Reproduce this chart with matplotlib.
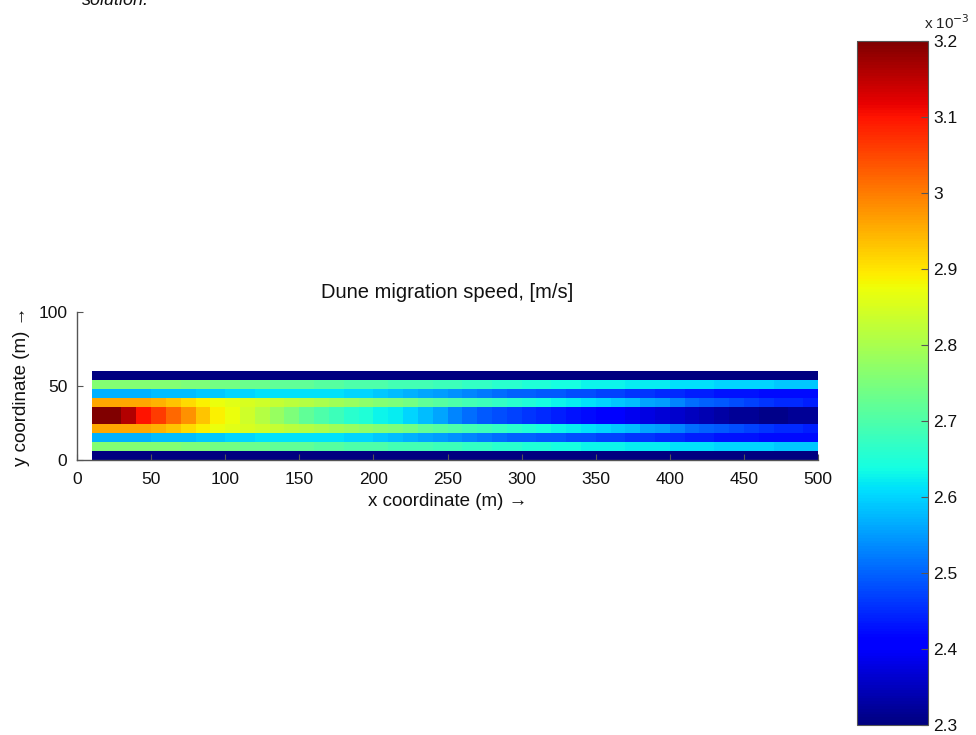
import numpy as np
import matplotlib
matplotlib.use("Agg")
import matplotlib.pyplot as plt

plt.rcParams['font.family'] = ['Liberation Sans', 'DejaVu Sans']

# ---- data (dune migration speed, units of 1e-3 m/s) ----
x_edges = np.arange(10, 501, 10)          # 50 edges -> 49 columns
y_edges = np.arange(0, 61, 6)             # 11 edges -> 10 rows
scale_label = r"x 10$^{-3}$"

center_row = [3.20, 3.20, 3.16, 3.10, 3.06, 3.02, 2.98, 2.93, 2.89, 2.87,
              2.84, 2.81, 2.78, 2.75, 2.72, 2.70, 2.68, 2.66, 2.65, 2.63,
              2.62, 2.60, 2.58, 2.56, 2.53, 2.51, 2.49, 2.48, 2.47, 2.46,
              2.45, 2.44, 2.43, 2.42, 2.41, 2.40, 2.39, 2.38, 2.37, 2.36,
              2.35, 2.34, 2.33, 2.32, 2.32, 2.31, 2.31, 2.32, 2.32]
inner_row = [2.96, 2.96, 2.96, 2.96, 2.95, 2.93, 2.91, 2.89, 2.87, 2.86,
             2.85, 2.84, 2.83, 2.82, 2.81, 2.80, 2.79, 2.78, 2.77, 2.76,
             2.75, 2.74, 2.72, 2.71, 2.70, 2.69, 2.68, 2.67, 2.66, 2.65,
             2.64, 2.63, 2.62, 2.61, 2.60, 2.59, 2.58, 2.56, 2.55, 2.53,
             2.51, 2.50, 2.49, 2.48, 2.47, 2.46, 2.45, 2.45, 2.44]
mid_row = [2.57, 2.57, 2.57, 2.57, 2.58, 2.58, 2.58, 2.59, 2.59, 2.60,
           2.60, 2.61, 2.61, 2.61, 2.61, 2.61, 2.61, 2.60, 2.60, 2.59,
           2.58, 2.57, 2.56, 2.55, 2.54, 2.53, 2.52, 2.51, 2.50, 2.50,
           2.49, 2.49, 2.48, 2.48, 2.47, 2.47, 2.46, 2.46, 2.45, 2.45,
           2.44, 2.44, 2.43, 2.43, 2.43, 2.42, 2.42, 2.42, 2.42]
outer_row = [2.76, 2.76, 2.76, 2.76, 2.76, 2.76, 2.75, 2.75, 2.74, 2.74,
             2.73, 2.73, 2.72, 2.72, 2.72, 2.71, 2.71, 2.70, 2.70, 2.70,
             2.69, 2.69, 2.69, 2.68, 2.68, 2.67, 2.67, 2.66, 2.66, 2.65,
             2.65, 2.64, 2.64, 2.63, 2.63, 2.63, 2.62, 2.62, 2.62, 2.61,
             2.61, 2.61, 2.60, 2.60, 2.60, 2.60, 2.59, 2.59, 2.59]
edge_row = [2.30] * 49

# rows from bottom (y=0) to top (y=60)
speed = np.array([edge_row, outer_row, mid_row, inner_row, center_row,
                  center_row, inner_row, mid_row, outer_row, edge_row])

x_ticks = [0, 50, 100, 150, 200, 250, 300, 350, 400, 450, 500]
y_ticks = [0, 50, 100]
cbar_ticks = [2.3, 2.4, 2.5, 2.6, 2.7, 2.8, 2.9, 3.0, 3.1, 3.2]
cbar_labels = ["2.3", "2.4", "2.5", "2.6", "2.7", "2.8", "2.9", "3", "3.1", "3.2"]

W, H = 976, 735
fig = plt.figure(figsize=(W / 100, H / 100), dpi=100)

def px(l, t, r, b):
    return [l / W, 1 - b / H, (r - l) / W, (b - t) / H]

ax = fig.add_axes(px(77, 312, 818, 460))
cmap = plt.get_cmap('jet')
mesh = ax.pcolormesh(x_edges, y_edges, speed, cmap=cmap, vmin=2.3, vmax=3.2,
                     shading='flat')
ax.set_xlim(0, 500)
ax.set_ylim(0, 100)
ax.set_xticks(x_ticks)
ax.set_yticks(y_ticks)
for s in ['top', 'right']:
    ax.spines[s].set_visible(False)
for s in ['left', 'bottom']:
    ax.spines[s].set_color('#555555')
    ax.spines[s].set_linewidth(1.0)
ax.tick_params(direction='in', length=4, color='#555555', labelsize=12.5,
               labelcolor='#111111')
ax.tick_params(axis='x', pad=9)
ax.tick_params(axis='y', pad=7)
ax.set_title("Dune migration speed, [m/s]", fontsize=14.5, pad=10, color='#111111')
ax.set_xlabel("x coordinate (m) \u2192", fontsize=13.5, labelpad=4, color='#111111')
ax.set_ylabel("y coordinate (m) \u2192", fontsize=13.5, labelpad=6, color='#111111')

cax = fig.add_axes(px(857, 41, 928, 725))
cb = fig.colorbar(mesh, cax=cax)
cb.set_ticks(cbar_ticks)
cb.set_ticklabels(cbar_labels)
cb.outline.set_edgecolor('#555555')
cax.tick_params(direction='in', length=5, color='#555555', labelsize=12.5,
                labelcolor='#111111', pad=4)
fig.text(924 / W, 1 - 29 / H, scale_label, fontsize=11, color='#222222',
         ha='left', va='baseline')

fig.text(82 / W, 1 - 5 / H, "solution.", fontsize=13, style='italic',
         color='#111111', ha='left', va='baseline')

fig.savefig("out.png", dpi=100)
